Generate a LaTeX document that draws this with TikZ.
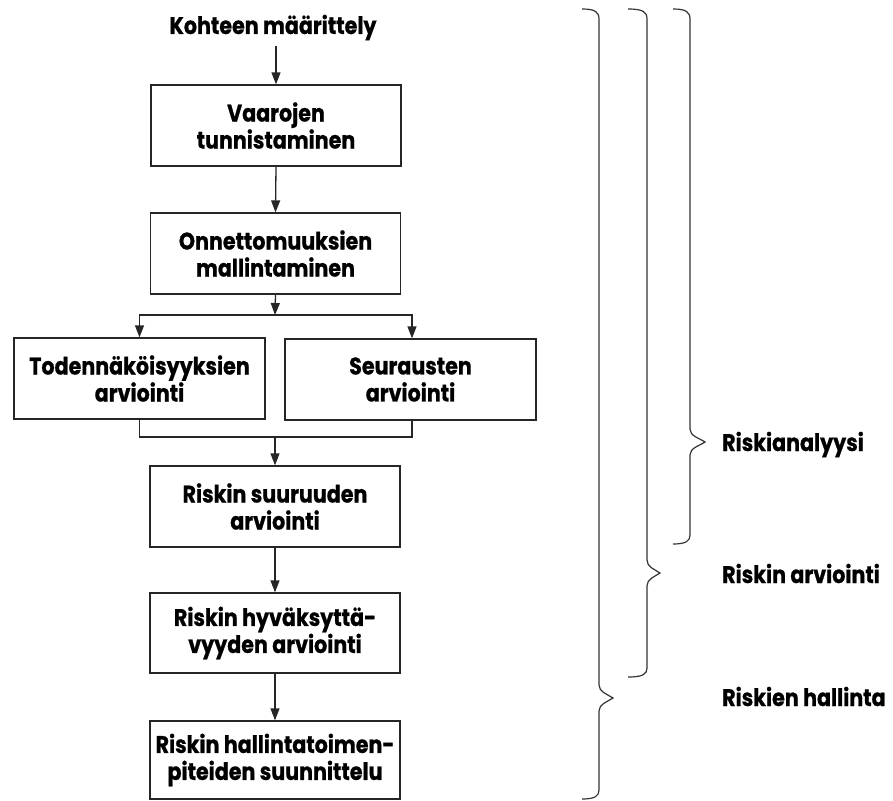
\documentclass[tikz,border=0pt]{standalone}
\usepackage{fontspec}
\setmainfont{Poppins}[FakeStretch=0.86,BoldFeatures={FakeBold=0.8}]
\usetikzlibrary{arrows.meta}
\newcommand\mybrace[6]{% x0 xv xt ytop ymid ybot
  \draw[bracestyle] (#1,#4) .. controls ({#2-4},#4) and (#2,{#4+3}) .. (#2,{#4+10})
    -- (#2,{#5-13}) .. controls (#2,{#5-6}) and ({#3-6},{#5-4}) .. (#3,#5)
    .. controls ({#3-6},{#5+4}) and (#2,{#5+6}) .. (#2,{#5+13})
    -- (#2,{#6-9}) .. controls (#2,{#6-3}) and ({#2-4},#6) .. (#1,#6);}
\begin{document}
\begin{tikzpicture}[x=1pt,y=-1pt,
  every node/.style={font=\fontsize{24}{27}\selectfont\bfseries},
  stepbox/.style={draw=black!85,line width=1.3pt,minimum width=250pt,minimum height=81pt,align=center,inner sep=0pt},
  conn/.style={line width=1.3pt,draw=black!85},
  arr/.style={conn,-{Triangle[length=12pt,width=9pt]}},
  bracestyle/.style={line width=1.2pt,draw=black!80},
  lbl/.style={anchor=base west,inner sep=0pt}]
\useasboundingbox (0,0) rectangle (893,800);
\node[anchor=base,inner sep=0pt] (kohde) at (273,34) {Kohteen määrittely};
\node[stepbox] (vaara) at (276,125.5) {Vaarojen\\tunnistaminen};
\node[stepbox] (onn) at (275.5,253.5) {Onnettomuuksien\\mallintaminen};
\node[stepbox,minimum width=251pt] (tod) at (139.5,378.5) {Todennäköisyyksien\\arviointi};
\node[stepbox,minimum width=251pt] (seur) at (410.5,379.5) {Seurausten\\arviointi};
\node[stepbox] (suur) at (275,506.5) {Riskin suuruuden\\arviointi};
\node[stepbox,minimum height=80pt] (hyv) at (275,633) {Riskin hyväksyttä-\\vyyden arviointi};
\node[stepbox,minimum height=78pt] (hall) at (275,760) {Riskin hallintatoimen-\\piteiden suunnittelu};
\coordinate (split) at (275,315);
\coordinate (join) at (275,437);
\draw[arr,shorten <=5pt] (kohde.south -| vaara.north) -- (vaara.north);
\draw[arr] (vaara.south) -- (onn.north);
\draw[arr] (onn.south) -- (split);
\draw[arr] (split) -| (tod.north);
\draw[arr] (split) -| ([xshift=1.5pt]seur.north);
\draw[conn] (tod.south) |- (join) -| ([xshift=1.5pt]seur.south);
\draw[arr] (join) -- (suur.north);
\draw[arr] (suur.south) -- (hyv.north);
\draw[arr] (hyv.south) -- (hall.north);
\mybrace{582}{599}{613}{9}{698}{799}
\mybrace{628}{647}{660}{9}{573}{677}
\mybrace{673}{690}{705}{9}{442}{544}
\node[lbl] (l1) at (722,451) {Riskianalyysi};
\node[lbl] (l2) at (722,583) {Riskin arviointi};
\node[lbl] (l3) at (722,706) {Riskien hallinta};
\end{tikzpicture}
\end{document}
